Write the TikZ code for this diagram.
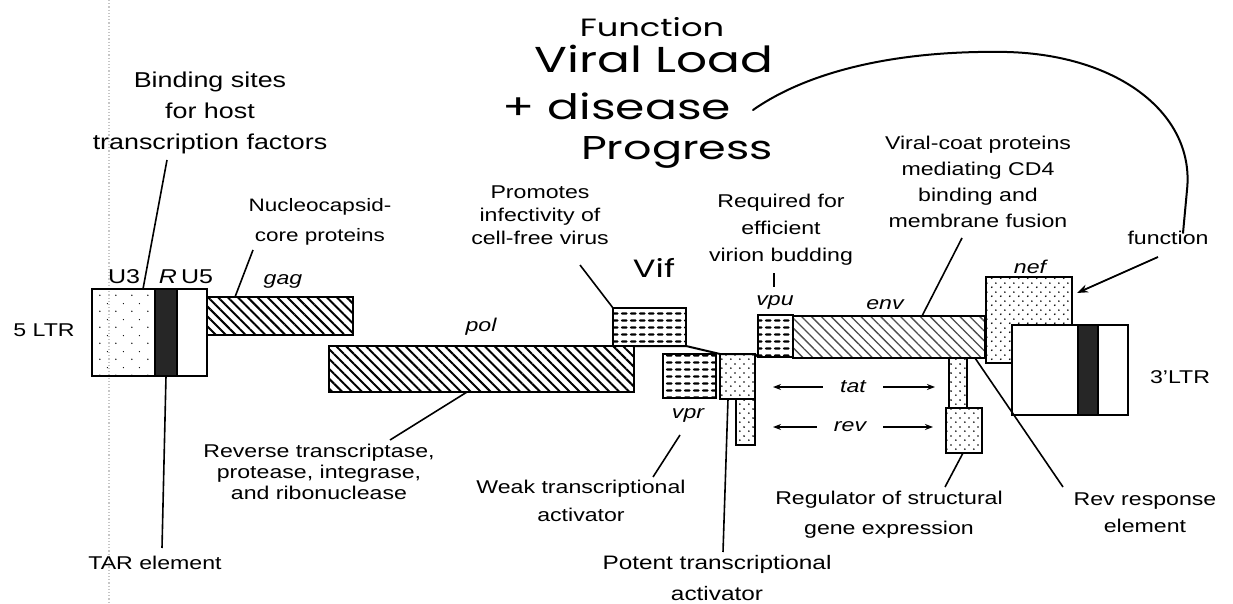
\documentclass[tikz,border=0pt]{standalone}
\usepackage{fontspec}
\setmainfont{Liberation Sans}[FakeStretch=1.25]
\newfontfamily\hand{Poppins}[FakeStretch=1.35]
\usetikzlibrary{patterns,patterns.meta,arrows.meta,calc}

\pgfdeclarepatternformonly{wavy}{\pgfqpoint{-1pt}{-1pt}}{\pgfqpoint{9pt}{8pt}}{\pgfqpoint{9pt}{7pt}}{%
  \pgfsetlinewidth{2.2pt}\pgfsetroundcap
  \pgfpathmoveto{\pgfqpoint{1pt}{3.5pt}}%
  \pgfpathcurveto{\pgfqpoint{2.5pt}{4.8pt}}{\pgfqpoint{4pt}{2.2pt}}{\pgfqpoint{5.5pt}{3.5pt}}%
  \pgfusepath{stroke}}
\pgfdeclarepatternformonly{sdots}{\pgfqpoint{0pt}{0pt}}{\pgfqpoint{9pt}{9pt}}{\pgfqpoint{9pt}{9pt}}{%
  \pgfpathcircle{\pgfqpoint{2pt}{2pt}}{1pt}\pgfpathcircle{\pgfqpoint{6.5pt}{6.5pt}}{1pt}\pgfusepath{fill}}
\pgfdeclarepatternformonly{ldots}{\pgfqpoint{0pt}{0pt}}{\pgfqpoint{16pt}{16pt}}{\pgfqpoint{16pt}{16pt}}{%
  \pgfpathcircle{\pgfqpoint{4pt}{5pt}}{0.8pt}\pgfpathcircle{\pgfqpoint{12pt}{13pt}}{0.7pt}\pgfusepath{fill}}

\tikzset{
  gbox/.style={draw, line width=2pt, inner sep=0pt, outer sep=0pt, anchor=north west},
  hatch/.style={pattern={Lines[angle=-45,distance=7pt,line width=2pt]}},
  lhatch/.style={pattern={Lines[angle=-45,distance=7pt,line width=1.3pt]}, pattern color=black!70},
  lbl/.style={align=center, inner sep=0pt, font=\fontsize{18.5}{25}\selectfont},
  gene/.style={inner sep=0pt, font=\fontsize{18.5}{22}\selectfont\itshape},
  handtxt/.style={inner sep=0pt, font=\hand\fontsize{34}{34}\selectfont},
  cline/.style={line width=1.6pt},
  arr/.style={line width=2pt, -{Stealth[length=8pt,width=6pt]}},
}

\begin{document}
\begin{tikzpicture}[x=1pt,y=-1pt]
\path[use as bounding box, fill=white] (0,0) rectangle (1233,604);
\draw[gray!45, dotted, line width=1.2pt] (109,0) -- (109,604);

% 5' LTR
\node[gbox, pattern=ldots, minimum width=63pt, minimum height=87pt] (U3) at (92,289) {};
\node[gbox, fill=black!85, minimum width=22pt, minimum height=87pt] (R) at (155,289) {};
\node[gbox, fill=white, minimum width=30pt, minimum height=87pt] (U5) at (177,289) {};
% genes
\node[gbox, hatch, minimum width=146pt, minimum height=38pt] (gag) at (207,297) {};
\node[gbox, hatch, minimum width=305pt, minimum height=46pt] (pol) at (329,346) {};
\node[gbox, pattern=wavy, minimum width=73pt, minimum height=38pt] (vif) at (613,308) {};
\node[gbox, pattern=wavy, minimum width=53pt, minimum height=44pt] (vpr) at (663,354) {};
\node[gbox, pattern=sdots, minimum width=35pt, minimum height=45pt] (tat1) at (720,354) {};
\node[gbox, pattern=sdots, minimum width=19pt, minimum height=46pt] (rev1) at (736,399) {};
\node[gbox, pattern=wavy, minimum width=35pt, minimum height=42pt] (vpu) at (758,315) {};
\node[gbox, lhatch, minimum width=192pt, minimum height=42pt] (env) at (793,316) {};
\node[gbox, pattern=sdots, minimum width=18pt, minimum height=50pt] (tat2) at (949,358) {};
\node[gbox, pattern=sdots, minimum width=36pt, minimum height=45pt] (rev2) at (946,408) {};
\node[gbox, pattern=sdots, minimum width=86pt, minimum height=86pt] (nef) at (986,277) {};
% 3' LTR
\node[gbox, fill=white, minimum width=66pt, minimum height=90pt] (L3a) at (1012,325) {};
\node[gbox, fill=black!85, minimum width=20pt, minimum height=90pt] (L3R) at (1078,325) {};
\node[gbox, fill=white, minimum width=30pt, minimum height=90pt] (L3b) at (1098,325) {};

% backbone
\draw[line width=2pt] (pol.north east) -- (vif.south east) -- (tat1.north west)
  -- (tat1.north east) -- (vpu.south west);

% labels
\node[lbl, font=\fontsize{21.5}{31}\selectfont] (bind) at (210,113) {Binding sites\\for host\\transcription factors};
\node[lbl, font=\fontsize{18}{30}\selectfont] (nucleo) at (320,222) {Nucleocapsid-\\core proteins};
\node[lbl, font=\fontsize{20}{22}\selectfont] (u3t) at (124,277) {U3};
\node[lbl, font=\fontsize{20}{22}\selectfont\itshape] (rt) at (168,277) {R};
\node[lbl, font=\fontsize{20}{22}\selectfont] (u5t) at (197,277) {U5};
\node[gene] (gagt) at (283,281) {gag};
\node[lbl] (ltr5) at (44,330) {5 LTR};
\node[gene] (polt) at (481,327) {pol};
\node[lbl, font=\fontsize{18.5}{21}\selectfont] (revtr) at (319,472) {Reverse transcriptase,\\protease, integrase,\\and ribonuclease};
\node[lbl] (tar) at (155,563) {TAR element};
\node[handtxt, font=\hand\fontsize{25}{25}\selectfont] (fn) at (652,27) {Function};
\node[handtxt, font=\hand\fontsize{36}{36}\selectfont] (vl) at (654,59) {Viral Load};
\node[handtxt, font=\hand\fontsize{35}{35}\selectfont] (dis) at (617,106) {+ disease};
\node[handtxt, font=\hand\fontsize{33}{33}\selectfont] (prog) at (677,152) {Progress};
\node[handtxt, font=\hand\fontsize{25}{25}\selectfont] (viflbl) at (654,268) {Vif};
\node[lbl, font=\fontsize{18.5}{23}\selectfont] (prom) at (540,215) {Promotes\\infectivity of\\cell-free virus};
\node[lbl, font=\fontsize{18.5}{27}\selectfont] (req) at (781,230) {Required for\\efficient\\virion budding};
\node[gene] (vput) at (775,302) {vpu};
\node[gene] (envt) at (885,305) {env};
\node[gene] (neft) at (1030,267) {nef};
\node[lbl, font=\fontsize{18.5}{26}\selectfont] (coat) at (978,182) {Viral-coat proteins\\mediating CD4\\binding and\\membrane fusion};
\node[lbl] (func) at (1168,238) {function};
\node[lbl] (ltr3) at (1180,377) {3'LTR};
\node[gene] (tatt) at (853,387) {tat};
\node[gene] (revt) at (850,427) {rev};
\node[gene] (vprt) at (688,415) {vpr};
\node[lbl, font=\fontsize{18.5}{28}\selectfont] (weak) at (581,501) {Weak transcriptional\\activator};
\node[lbl, font=\fontsize{19.5}{31}\selectfont] (potent) at (717,578) {Potent transcriptional\\activator};
\node[lbl, font=\fontsize{18.5}{30}\selectfont] (regu) at (889,515) {Regulator of structural\\gene expression};
\node[lbl, font=\fontsize{18.5}{27}\selectfont] (rre) at (1145,513) {Rev response\\element};

% connector end points
\coordinate (bindA) at (167,160);
\coordinate (nucA) at (253,250);
\coordinate (revA) at (390,440);
\coordinate (tarA) at (162,548);
\coordinate (promA) at (580,265);
\coordinate (reqA) at (774,273);
\coordinate (reqB) at (774,287);
\coordinate (coatA) at (962,238);
\coordinate (vprA) at (680,435);
\coordinate (vprB) at (653,477);
\coordinate (potA) at (723,552);
\coordinate (regA) at (945,487);
\coordinate (rreA) at (1063,487);
\coordinate (funA) at (1158,257);
\coordinate (curveA) at (753,110);
\coordinate (curveB) at (1183,233);
\coordinate (tatL) at (773,387);
\coordinate (tatR) at (935,387);
\coordinate (revL) at (773,427);
\coordinate (revR) at (933,427);

% connectors
\draw[cline] (bindA) -- ($(U3.north west)+(51,0)$);
\draw[cline] (nucA) -- ($(gag.north west)+(28,0)$);
\draw[cline] (revA) -- ($(pol.south west)+(138,0)$);
\draw[cline] (R.south) -- (tarA);
\draw[cline] (promA) -- (vif.north west);
\draw[cline] (reqA) -- (reqB);
\draw[cline] (coatA) -- ($(env.north west)+(129,0)$);
\draw[cline] (vprA) -- (vprB);
\draw[cline] ($(tat1.south west)+(8,0)$) -- (potA);
\draw[cline] ($(rev2.south west)+(17,0)$) -- (regA);
\draw[cline] ($(env.south east)+(-10,0)$) -- (rreA);
\draw[line width=1.8pt, -{Stealth[length=11pt,width=8pt]}] (funA) -- ($(nef.north east)+(5,16)$);
\draw[line width=2pt, line cap=round] (curveA) .. controls (810,70) and (900,50) .. (1007,52)
  .. controls (1120,55) and (1195,115) .. (1187,190) -- (curveB);
\draw[arr, shorten <=17pt] (tatt.west) -- (tatL);
\draw[arr, shorten <=17pt] (tatt.east) -- (tatR);
\draw[arr, shorten <=17pt] (revt.west) -- (revL);
\draw[arr, shorten <=17pt] (revt.east) -- (revR);
\end{tikzpicture}
\end{document}
